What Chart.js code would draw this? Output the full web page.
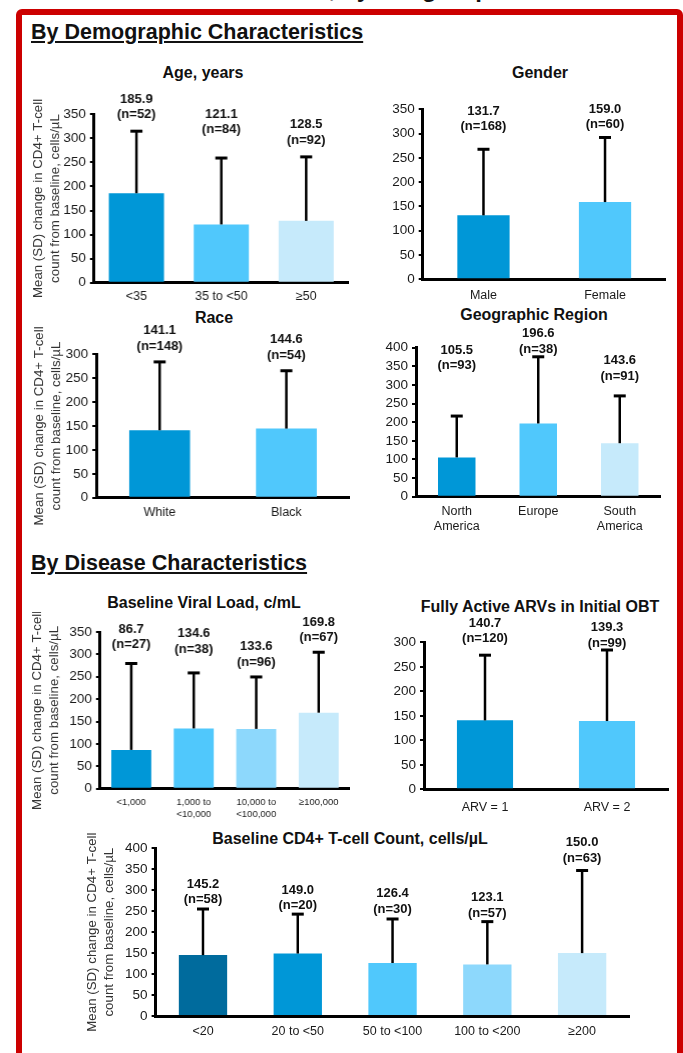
<!DOCTYPE html>
<html>
<head>
<meta charset="utf-8">
<script src="https://cdn.jsdelivr.net/npm/chart.js@4.4.1/dist/chart.umd.min.js"></script>
<style>
  body { margin: 0; background: #fff; }
  #page { position: relative; width: 683px; height: 1053px; overflow: hidden; font-family: 'Liberation Sans', Arial, sans-serif; color: #111; }
  .frame { position: absolute; left: 16px; top: 9px; width: 667px; height: 1100px; box-sizing: border-box; border: 6px solid #cc0000; border-radius: 6px; }
  .cut { position: absolute; right: 193px; top: -23px; font-size: 24px; line-height: 24px; font-weight: bold; white-space: nowrap; }
  .section { position: absolute; left: 31px; font-size: 21.5px; line-height: 21px; font-weight: bold; text-decoration: underline; }
  .ptitle { position: absolute; width: 320px; text-align: center; font-size: 16px; line-height: 16px; font-weight: bold; white-space: nowrap; }
  .panel { position: absolute; }
</style>
</head>
<body>
<div id="page">
  <div class="frame"></div>
  <div class="cut">Mean CD4+ T-cell Count, by Subgroup</div>

  <div class="section" style="top:21.5px">By Demographic Characteristics</div>
  <div class="ptitle" style="left:43px; top:65px">Age, years</div>
  <div class="ptitle" style="left:380px; top:65px">Gender</div>
  <div class="ptitle" style="left:54px; top:310px">Race</div>
  <div class="ptitle" style="left:374px; top:307px">Geographic Region</div>

  <div class="section" style="top:553px">By Disease Characteristics</div>
  <div class="ptitle" style="left:44px; top:595px">Baseline Viral Load, c/mL</div>
  <div class="ptitle" style="left:380px; top:599px">Fully Active ARVs in Initial OBT</div>
  <div class="ptitle" style="left:150px; top:831px; width:400px">Baseline CD4+ T-cell Count, cells/µL</div>

  <div class="panel" id="age"><canvas></canvas></div>
  <div class="panel" id="gender"><canvas></canvas></div>
  <div class="panel" id="race"><canvas></canvas></div>
  <div class="panel" id="region"><canvas></canvas></div>
  <div class="panel" id="viral"><canvas></canvas></div>
  <div class="panel" id="arv"><canvas></canvas></div>
  <div class="panel" id="cd4"><canvas></canvas></div>
</div>

<script>
// Data (mean, SD, n per subgroup)
const ageLabels = ['<35', '35 to <50', '≥50'];
const ageMeans = [185.9, 121.1, 128.5];
const ageSD = [129, 138, 133];
const ageN = [52, 84, 92];

const genderLabels = ['Male', 'Female'];
const genderMeans = [131.7, 159.0];
const genderSD = [136, 133];
const genderN = [168, 60];

const raceLabels = ['White', 'Black'];
const raceMeans = [141.1, 144.6];
const raceSD = [143, 121];
const raceN = [148, 54];

const regionLabels = [['North', 'America'], 'Europe', ['South', 'America']];
const regionMeans = [105.5, 196.6, 143.6];
const regionSD = [111, 179, 127];
const regionN = [93, 38, 91];

const viralLabels = ['<1,000', ['1,000 to', '<10,000'], ['10,000 to', '<100,000'], '≥100,000'];
const viralMeans = [86.7, 134.6, 133.6, 169.8];
const viralSD = [193, 124, 116, 135];
const viralN = [27, 38, 96, 67];

const arvLabels = ['ARV = 1', 'ARV = 2'];
const arvMeans = [140.7, 139.3];
const arvSD = [133, 145];
const arvN = [120, 99];

const cd4Labels = ['<20', '20 to <50', '50 to <100', '100 to <200', '≥200'];
const cd4Means = [145.2, 149.0, 126.4, 123.1, 150.0];
const cd4SD = [110, 94, 105, 102, 197];
const cd4N = [58, 20, 30, 57, 63];

const yTitle = ['Mean (SD) change in CD4+ T-cell', 'count from baseline, cells/µL'];

const NAVY = '#006b9d';
const BLUE = '#0097d7';
const SKY = '#50c8fc';
const LIGHT = '#8dd8fc';
const PALE = '#c6eafb';

Chart.defaults.font.family = "'Liberation Sans', Arial, sans-serif";
Chart.defaults.color = '#1a1a1a';

// error bar (upper half only) + "mean / (n=..)" labels above it
const errorBarsAndLabels = {
    id: 'errorBarsAndLabels',
    afterDatasetsDraw(chart, args, opts) {
        const ctx = chart.ctx;
        const y = chart.scales.y;
        const values = chart.data.datasets[0].data;
        chart.getDatasetMeta(0).data.forEach((bar, i) => {
            const top = y.getPixelForValue(values[i] + opts.sd[i]);
            ctx.save();
            ctx.strokeStyle = '#000';
            ctx.lineWidth = 2.5;
            ctx.beginPath();
            ctx.moveTo(bar.x, bar.y);
            ctx.lineTo(bar.x, top);
            ctx.stroke();
            ctx.lineWidth = 3;
            ctx.beginPath();
            ctx.moveTo(bar.x - 6, top);
            ctx.lineTo(bar.x + 6, top);
            ctx.stroke();

            ctx.fillStyle = '#111';
            ctx.font = "bold 13px 'Liberation Sans', Arial, sans-serif";
            ctx.textAlign = 'center';
            ctx.textBaseline = 'alphabetic';
            const base = top - opts.gaps[i];
            ctx.fillText('(n=' + opts.n[i] + ')', bar.x, base);
            ctx.fillText(values[i].toFixed(1), bar.x, base - 15.5);
            ctx.restore();
        });
    }
};

const panels = [
    { id: 'age', labels: ageLabels, means: ageMeans, sd: ageSD, n: ageN, max: 350,
      colors: [BLUE, SKY, PALE], bar: 0.65, showTitle: true, xFont: 12.5, xPad: 7, xLH: 1.15,
      area: { l: 94.2, t: 114.3, r: 348, b: 282.7 }, box: { l: 30.4, t: 86, r: 354, b: 312 },
      gaps: [13, 25, 13] },
    { id: 'gender', labels: genderLabels, means: genderMeans, sd: genderSD, n: genderN, max: 350,
      colors: [BLUE, SKY], bar: 0.43, showTitle: false, xFont: 12.5, xPad: 9, xLH: 1.15,
      area: { l: 422.7, t: 109.3, r: 665.8, b: 279.3 }, box: { l: 380, t: 86, r: 671, b: 306 },
      gaps: [19, 9] },
    { id: 'race', labels: raceLabels, means: raceMeans, sd: raceSD, n: raceN, max: 300,
      colors: [BLUE, SKY], bar: 0.48, showTitle: true, xFont: 12.5, xPad: 8, xLH: 1.15,
      area: { l: 96.4, t: 354.3, r: 349, b: 497.7 }, box: { l: 31.3, t: 322, r: 355, b: 526 },
      gaps: [12, 12] },
    { id: 'region', labels: regionLabels, means: regionMeans, sd: regionSD, n: regionN, max: 400,
      colors: [BLUE, SKY, PALE], bar: 0.46, showTitle: false, xFont: 12.5, xPad: 8, xLH: 1.15,
      area: { l: 416, t: 347.7, r: 660.5, b: 496.7 }, box: { l: 375, t: 318, r: 667, b: 540 },
      gaps: [47, 4, 16] },
    { id: 'viral', labels: viralLabels, means: viralMeans, sd: viralSD, n: viralN, max: 350,
      colors: [BLUE, SKY, LIGHT, PALE], bar: 0.64, showTitle: true, xFont: 9.5, xPad: 7, xLH: 1.33,
      area: { l: 99.9, t: 632, r: 349, b: 788.7 }, box: { l: 29.1, t: 612, r: 355, b: 826 },
      gaps: [15, 20, 11, 11] },
    { id: 'arv', labels: arvLabels, means: arvMeans, sd: arvSD, n: arvN, max: 300,
      colors: [BLUE, SKY], bar: 0.46, showTitle: false, xFont: 12.5, xPad: 11, xLH: 1.15,
      area: { l: 424, t: 642.3, r: 668, b: 789.3 }, box: { l: 385, t: 612, r: 674, b: 822 },
      gaps: [13, 3] },
    { id: 'cd4', labels: cd4Labels, means: cd4Means, sd: cd4SD, n: cd4N, max: 400,
      colors: [NAVY, BLUE, SKY, LIGHT, PALE], bar: 0.51, showTitle: true, xFont: 12.5, xPad: 8, xLH: 1.15,
      area: { l: 155.5, t: 848.3, r: 629.4, b: 1016 }, box: { l: 83.9, t: 826, r: 640, b: 1053 },
      gaps: [6, 5, 6, 5, 9] }
];

panels.forEach(p => {
    const wrap = document.getElementById(p.id);
    wrap.style.left = p.box.l + 'px';
    wrap.style.top = p.box.t + 'px';
    wrap.style.width = (p.box.r - p.box.l) + 'px';
    wrap.style.height = (p.box.b - p.box.t) + 'px';

    const yWidth = p.area.l - p.box.l;
    const xHeight = p.box.b - p.area.b;

    new Chart(wrap.querySelector('canvas'), {
        type: 'bar',
        data: {
            labels: p.labels,
            datasets: [{
                data: p.means,
                backgroundColor: p.colors,
                borderWidth: 0,
                categoryPercentage: 1,
                barPercentage: p.bar
            }]
        },
        options: {
            responsive: true,
            maintainAspectRatio: false,
            animation: false,
            layout: { padding: { left: 0, top: p.area.t - p.box.t, right: p.box.r - p.area.r, bottom: 0 } },
            plugins: {
                legend: { display: false },
                tooltip: { enabled: false },
                title: { display: false },
                errorBarsAndLabels: { sd: p.sd, n: p.n, gaps: p.gaps }
            },
            scales: {
                x: {
                    grid: { display: false, drawTicks: false },
                    border: { display: true, color: '#000', width: 3 },
                    ticks: { color: '#1a1a1a', font: { size: p.xFont, lineHeight: p.xLH }, padding: p.xPad, maxRotation: 0, autoSkip: false },
                    afterFit: s => { s.height = xHeight; }
                },
                y: {
                    min: 0,
                    max: p.max,
                    ticks: { stepSize: 50, autoSkip: false, color: '#1a1a1a', font: { size: 13.5 }, padding: 4 },
                    grid: { display: true, drawOnChartArea: false, drawTicks: true, tickLength: 4, color: '#000', lineWidth: 2 },
                    border: { display: true, color: '#000', width: 3 },
                    title: { display: p.showTitle, text: yTitle, color: '#333', font: { size: 13.3, lineHeight: 1.25 }, padding: 0 },
                    afterFit: s => { s.width = yWidth; }
                }
            }
        },
        plugins: [errorBarsAndLabels]
    });
});
</script>
</body>
</html>
